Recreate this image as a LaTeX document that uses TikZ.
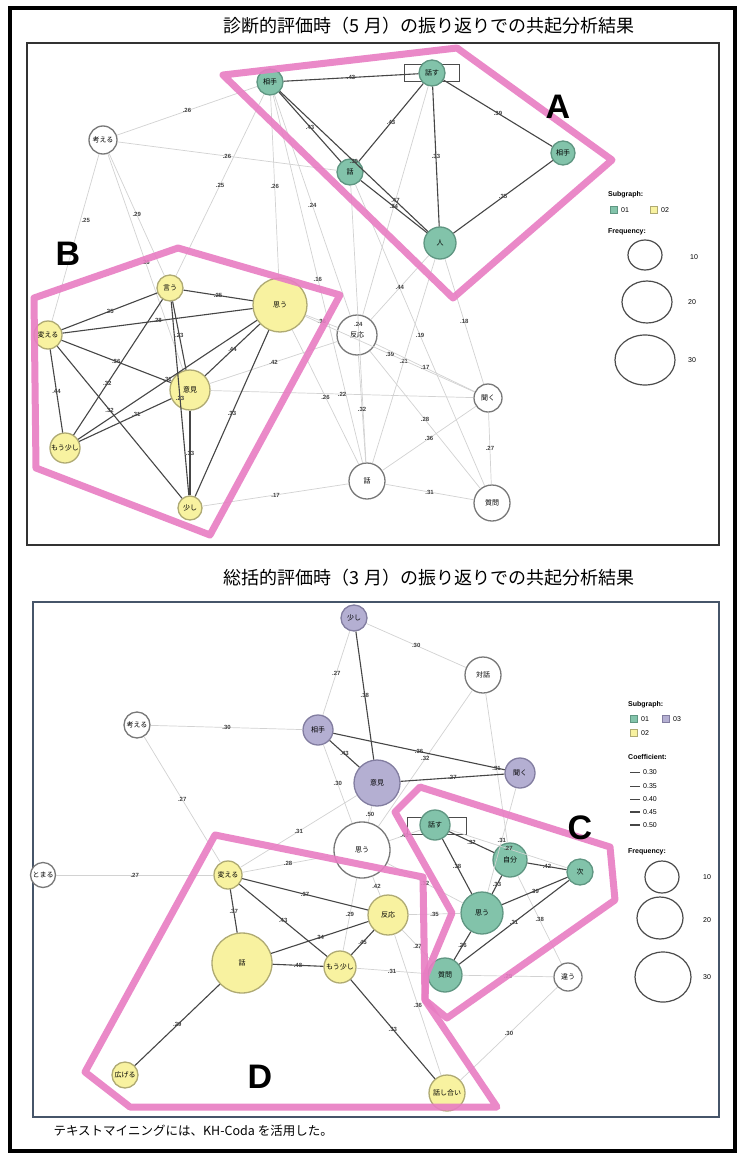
\documentclass[tikz,border=0pt]{standalone}
\usepackage{fontspec}
\setmainfont{Liberation Sans}
\newfontfamily\cjk{Noto Sans CJK JP}

\definecolor{grnF}{RGB}{130,195,170}
\definecolor{grnD}{RGB}{95,150,130}
\definecolor{ylwF}{RGB}{248,242,160}
\definecolor{ylwD}{RGB}{175,170,115}
\definecolor{prpF}{RGB}{180,175,210}
\definecolor{prpD}{RGB}{130,125,160}
\definecolor{wD}{RGB}{120,120,120}
\definecolor{pinkL}{RGB}{232,125,195}
\definecolor{frameB}{RGB}{70,85,105}

\tikzset{
  word/.style={circle, inner sep=0pt, line width=1.3pt, text=black, font=\cjk\fontsize{7}{7}\selectfont},
  grn/.style={word, draw=grnD, fill=grnF},
  ylw/.style={word, draw=ylwD, fill=ylwF},
  prp/.style={word, draw=prpD, fill=prpF},
  wht/.style={word, draw=wD, fill=white},
  strong/.style={draw=gray!55!black, line width=1.1pt},
  weak/.style={draw=gray!35, line width=0.7pt},
  elab/.style={font=\fontsize{6}{6}\selectfont\bfseries, text=black!75, inner sep=1pt},
  group/.style={draw=pinkL, line width=7pt, line join=round, opacity=0.9},
  grpname/.style={font=\fontsize{34}{34}\selectfont\bfseries},
  legtxt/.style={font=\fontsize{7}{8}\selectfont, anchor=west, inner sep=0pt},
  freqc/.style={draw=gray!60!black, line width=1.2pt},
}

\begin{document}
\begin{tikzpicture}[x=1pt,y=-1pt]
    \fill[white] (0,0) rectangle (739,1153);
    \useasboundingbox (0,0) rectangle (739,1153);
    \draw[line width=4pt] (10,8) rectangle (735,1151);

    \node[font=\cjk\fontsize{18}{18}\selectfont] (title1) at (429,26) {診断的評価時（5 月）の振り返りでの共起分析結果};
    \node[font=\cjk\fontsize{18}{18}\selectfont] (title2) at (429,578) {総括的評価時（3 月）の振り返りでの共起分析結果};
    \node[font=\cjk\fontsize{12.5}{13}\selectfont, anchor=west] (note) at (50,1131) {テキストマイニングには、KH-Coda を活用した。};

    \draw[gray!40!black, line width=1.2pt] (27,43) rectangle (719,545);
    \draw[frameB, line width=1.2pt] (33,602) rectangle (719,1117);

    % top graph
    \node[grn, minimum size=26] (aAite) at (270,82) {相手};
    \node[draw=gray!60!black, line width=0.8pt, minimum width=55, minimum height=17] (aHanasuBox) at (432,73) {};
    \node[grn, minimum size=26] (aHanasu) at (432,73) {話す};
    \node[grn, minimum size=26] (aWa) at (350,172) {話};
    \node[grn, minimum size=24] (aAiteR) at (563,153) {相手};
    \node[grn, minimum size=32] (aHito) at (440,243) {人};
    \node[wht, minimum size=28] (aKangaeru) at (103,140) {考える};
    \node[ylw, minimum size=26] (aIu) at (170,288) {言う};
    \node[ylw, minimum size=54] (aOmou) at (280,305) {思う};
    \node[ylw, minimum size=28] (aKaeru) at (48,335) {変える};
    \node[ylw, minimum size=40] (aIken) at (190,390) {意見};
    \node[ylw, minimum size=30] (aMou) at (65,448) {もう少し};
    \node[ylw, minimum size=24] (aSukoshi) at (190,508) {少し};
    \node[wht, minimum size=40] (aHannou) at (357,335) {反応};
    \node[wht, minimum size=28] (aKiku) at (488,398) {聞く};
    \node[wht, minimum size=36] (aHanashi) at (367,481) {話};
    \node[wht, minimum size=36] (aShitsumon) at (492,503) {質問};

    \foreach \a/\b/\l in {aKangaeru/aAite/.26, aKangaeru/aWa/.26, aKangaeru/aIken/.26, aKangaeru/aIu/.29,
        aAite/aIu/.25, aAite/aOmou/.26, aAite/aHannou/.24, aAite/aHanashi/.16,
        aWa/aHanashi/.24, aWa/aShitsumon/.19, aHito/aKiku/.18, aHito/aHannou/.44, aHito/aHanashi/.21,
        aHanasu/aHannou/.47, aOmou/aHannou/.36, aOmou/aKiku/.39, aOmou/aHanashi/.26, aIken/aHannou/.42,
        aIken/aKiku/.22, aHannou/aHanashi/.32, aHannou/aKiku/.17, aHannou/aShitsumon/.28,
        aKiku/aHanashi/.36, aKiku/aShitsumon/.27, aHanashi/aShitsumon/.31, aSukoshi/aHanashi/.17}
        \draw[weak] (\a) -- node[elab]{\l} (\b);
    \draw[weak] (aKangaeru) -- node[elab, pos=0.4, right]{.25} (aKaeru);

    \foreach \a/\b/\l in {aAite/aHanasu/.43, aAite/aWa/.43, aAite/aHito/.30, aHanasu/aWa/.43,
        aHanasu/aHito/.33, aHanasu/aAiteR/.39, aAiteR/aHito/.35, aWa/aHito/.24,
        aIu/aOmou/.25, aIu/aKaeru/.25, aIu/aIken/.23, aIu/aSukoshi/.23,
        aKaeru/aOmou/.28, aKaeru/aIken/.36, aKaeru/aMou/.44,
        aOmou/aIken/.44, aOmou/aMou/.31, aOmou/aSukoshi/.33, aIken/aSukoshi/.33}
        \draw[strong] (\a) -- node[elab]{\l} (\b);
    \draw[strong] (aIu) -- node[elab, pos=0.62]{.32} (aMou);
    \draw[strong] (aIken) -- node[elab, pos=0.38]{.31} (aMou);
    \draw[strong] (aKaeru) -- node[elab, pos=0.42]{.32} (aSukoshi);

    \draw[group] (223,75) -- (457,48) -- (612,160) -- (453,298) -- cycle;
    \draw[group] (178,248) -- (340,295) -- (210,535) -- (36,468) -- (34,298) -- cycle;
    \node[grpname] (grpA) at (558,107) {A};
    \node[grpname] (grpB) at (68,254) {B};

    % top legend
    \node[legtxt, font=\fontsize{7}{8}\selectfont\bfseries] (lgSub1) at (608,195) {Subgraph:};
    \node[draw=grnD, fill=grnF, minimum size=7, inner sep=0pt] (lgG1) at (614,210) {};
    \node[legtxt] (lgG1t) at (621,210) {01};
    \node[draw=ylwD, fill=ylwF, minimum size=7, inner sep=0pt] (lgY1) at (654,210) {};
    \node[legtxt] (lgY1t) at (661,210) {02};
    \node[legtxt, font=\fontsize{7}{8}\selectfont\bfseries] (lgFrq1) at (608,232) {Frequency:};
    \draw[freqc] (645,255) ellipse [x radius=17, y radius=15];
    \draw[freqc] (647,302) ellipse [x radius=25, y radius=21];
    \draw[freqc] (645,360) ellipse [x radius=30, y radius=25];
    \node[legtxt] (lgF10) at (690,257) {10};
    \node[legtxt] (lgF20) at (688,302) {20};
    \node[legtxt] (lgF30) at (688,360) {30};

    % bottom graph
    \node[prp, minimum size=26] (bSukoshi) at (354,618) {少し};
    \node[wht, minimum size=36] (bTaiwa) at (483,675) {対話};
    \node[wht, minimum size=26] (bKangaeru) at (137,725) {考える};
    \node[prp, minimum size=30] (bAite) at (318,730) {相手};
    \node[prp, minimum size=46] (bIken) at (377,783) {意見};
    \node[prp, minimum size=30] (bKiku) at (520,773) {聞く};
    \node[wht, minimum size=56] (bOmouW) at (362,850) {思う};
    \node[draw=gray!60!black, line width=0.8pt, minimum width=59, minimum height=17] (bHanasuBox) at (437,826) {};
    \node[grn, minimum size=30] (bHanasu) at (435,825) {話す};
    \node[grn, minimum size=34] (bJibun) at (510,860) {自分};
    \node[grn, minimum size=26] (bTsugi) at (580,872) {次};
    \node[grn, minimum size=42] (bOmouG) at (482,913) {思う};
    \node[grn, minimum size=34] (bShitsumon) at (445,975) {質問};
    \node[wht, minimum size=28] (bChigau) at (568,977) {違う};
    \node[wht, minimum size=25] (bTomaru) at (43,875) {とまる};
    \node[ylw, minimum size=28] (bKaeru) at (228,875) {変える};
    \node[ylw, minimum size=60] (bHanashi) at (242,963) {話};
    \node[ylw, minimum size=32] (bMou) at (340,967) {もう少し};
    \node[ylw, minimum size=40] (bHannou) at (388,915) {反応};
    \node[ylw, minimum size=26] (bHirogeru) at (125,1075) {広げる};
    \node[ylw, minimum size=36] (bHanashiai) at (447,1093) {話し合い};

    \foreach \a/\b/\l in {bSukoshi/bAite/.27, bSukoshi/bTaiwa/.30, bTaiwa/bOmouW/.32, bTaiwa/bJibun/.31,
        bKangaeru/bAite/.30, bKangaeru/bKaeru/.27, bAite/bOmouW/.30, bIken/bOmouW/.50, bIken/bKaeru/.31,
        bTomaru/bKaeru/.27, bOmouW/bKaeru/.28, bOmouW/bHannou/.42, bOmouW/bHanasu/.40, bOmouW/bOmouG/.32,
        bOmouW/bMou/.29, bHannou/bOmouG/.35, bHannou/bShitsumon/.27, bMou/bShitsumon/.31,
        bShitsumon/bChigau/.29, bChigau/bHanashiai/.30, bChigau/bJibun/.38, bKiku/bOmouG/.31,
        bHanasu/bTsugi/.27, bHannou/bHanashiai/.36}
        \draw[weak] (\a) -- node[elab]{\l} (\b);

    \foreach \a/\b/\l in {bSukoshi/bIken/.38, bAite/bIken/.43, bAite/bKiku/.36, bIken/bKiku/.27,
        bHanasu/bJibun/.32, bHanasu/bOmouG/.38, bJibun/bTsugi/.42, bJibun/bOmouG/.33, bTsugi/bOmouG/.39,
        bTsugi/bShitsumon/.31, bOmouG/bShitsumon/.26, bKaeru/bHanashi/.37, bKaeru/bMou/.43,
        bKaeru/bHannou/.37, bHanashi/bMou/.48, bHanashi/bHannou/.34, bMou/bHannou/.45,
        bHanashi/bHirogeru/.29, bMou/bHanashiai/.33}
        \draw[strong] (\a) -- node[elab]{\l} (\b);

    \draw[group] (420,787) -- (610,847) -- (615,900) -- (447,1018) -- (425,1000) -- (426,975) -- (452,913) -- (395,812) -- cycle;
    \draw[group] (215,835) -- (423,877) -- (425,1000) -- (497,1107) -- (130,1107) -- (85,1072) -- cycle;
    \node[grpname] (grpC) at (580,828) {C};
    \node[grpname] (grpD) at (260,1077) {D};

    % bottom legend
    \node[legtxt, font=\fontsize{7}{8}\selectfont\bfseries] (lgSub2) at (628,705) {Subgraph:};
    \node[draw=grnD, fill=grnF, minimum size=7, inner sep=0pt] (lgG2) at (634,719) {};
    \node[legtxt] (lgG2t) at (641,719) {01};
    \node[draw=prpD, fill=prpF, minimum size=7, inner sep=0pt] (lgP2) at (666,719) {};
    \node[legtxt] (lgP2t) at (673,719) {03};
    \node[draw=ylwD, fill=ylwF, minimum size=7, inner sep=0pt] (lgY2) at (634,733) {};
    \node[legtxt] (lgY2t) at (641,733) {02};
    \node[legtxt, font=\fontsize{7}{8}\selectfont\bfseries] (lgCoef) at (628,757) {Coefficient:};
    \foreach \y/\w/\v in {772/0.4/0.30, 786/0.7/0.35, 799/1.0/0.40, 812/1.3/0.45, 825/1.6/0.50} {
        \draw[gray!55!black, line width=\w pt] (630,\y) -- (640,\y);
        \node[legtxt] at (643,\y) {\v};
    }
    \node[legtxt, font=\fontsize{7}{8}\selectfont\bfseries] (lgFrq2) at (628,852) {Frequency:};
    \draw[freqc] (662,877) ellipse [x radius=17, y radius=16];
    \draw[freqc] (660,918) ellipse [x radius=23, y radius=21];
    \draw[freqc] (663,977) ellipse [x radius=28, y radius=25];
    \node[legtxt] (lgF10b) at (703,877) {10};
    \node[legtxt] (lgF20b) at (703,920) {20};
    \node[legtxt] (lgF30b) at (703,977) {30};
\end{tikzpicture}
\end{document}
